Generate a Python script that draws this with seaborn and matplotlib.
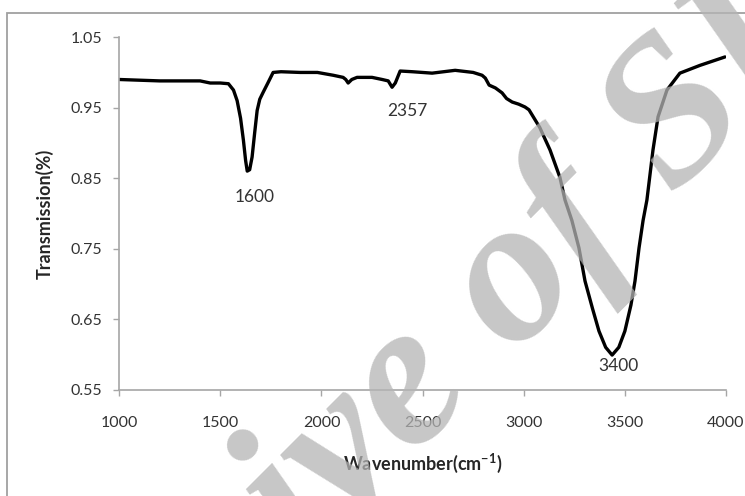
import matplotlib
matplotlib.use("Agg")
import matplotlib.pyplot as plt
import matplotlib.patches as patches
import seaborn as sns
import pandas as pd

# FTIR spectrum
wavenumber = [1000, 1100, 1200, 1300, 1400, 1450, 1500, 1540, 1565, 1583, 1600, 1614,
              1625, 1633, 1645, 1657, 1670, 1682, 1695, 1712, 1735, 1761, 1800, 1895,
              1980, 2058, 2107, 2120, 2132, 2150, 2176, 2250, 2300, 2330, 2349, 2365,
              2389, 2450, 2547, 2661, 2750, 2794, 2810, 2829, 2860, 2893, 2915, 2943,
              2975, 3006, 3026, 3079, 3130, 3179, 3204, 3238, 3273, 3303, 3340, 3372,
              3405, 3437, 3470, 3500, 3530, 3550, 3570, 3590, 3609, 3639, 3664, 3708,
              3772, 3871, 3995]
transmission = [0.990, 0.989, 0.988, 0.988, 0.988, 0.985, 0.985, 0.984, 0.975, 0.960, 0.935, 0.904,
                0.875, 0.860, 0.862, 0.880, 0.915, 0.946, 0.962, 0.972, 0.985, 1.000, 1.001, 1.000,
                1.000, 0.996, 0.993, 0.990, 0.985, 0.990, 0.993, 0.993, 0.990, 0.988, 0.979, 0.985,
                1.002, 1.001, 0.999, 1.003, 1.000, 0.996, 0.992, 0.982, 0.978, 0.971, 0.963, 0.958,
                0.955, 0.951, 0.947, 0.922, 0.890, 0.851, 0.819, 0.790, 0.751, 0.704, 0.665, 0.633,
                0.610, 0.599, 0.610, 0.633, 0.670, 0.704, 0.751, 0.790, 0.819, 0.890, 0.937, 0.975,
                0.999, 1.010, 1.022]

# peak labels
peak_labels = ["1600", "2357", "3400"]
peak_x = [1672, 2423, 3466]
peak_y = [0.823, 0.946, 0.583]

x_ticks = [1000, 1500, 2000, 2500, 3000, 3500, 4000]
y_ticks = [0.55, 0.65, 0.75, 0.85, 0.95, 1.05]

sns.set_style("white")
plt.rcParams['font.family'] = ['Lato', 'DejaVu Sans']
plt.rcParams['mathtext.fontset'] = 'custom'
plt.rcParams['mathtext.rm'] = 'Lato:bold'
plt.rcParams['mathtext.bf'] = 'Lato:bold'

df = pd.DataFrame({"wavenumber": wavenumber, "transmission": transmission})

fig = plt.figure(figsize=(7.45, 4.96), dpi=100)
ax = fig.add_axes([0.160, 0.2145, 0.8145, 0.7105])

sns.lineplot(data=df, x="wavenumber", y="transmission", ax=ax, color="black",
             linewidth=2.4, sort=False)

for lab, lx, ly in zip(peak_labels, peak_x, peak_y):
    ax.text(lx, ly, lab, ha="center", va="center", fontsize=12.5, color="#333333")

ax.set_xlim(1000, 4000)
ax.set_ylim(0.55, 1.05)
ax.set_xticks(x_ticks)
ax.set_yticks(y_ticks)
ax.set_yticklabels([f"{v:.2f}" for v in y_ticks])
ax.tick_params(axis="both", labelsize=11.5, labelcolor="#333333", color="#a6a6a6",
               length=4, width=1, direction="out", left=True, bottom=True)
ax.tick_params(axis="x", pad=15)
ax.tick_params(axis="y", pad=8)

for side in ["top", "right"]:
    ax.spines[side].set_visible(False)
for side in ["left", "bottom"]:
    ax.spines[side].set_color("#a6a6a6")
    ax.spines[side].set_linewidth(1.2)

ax.set_xlabel(r"Wavenumber(cm$^{-1}$)", fontsize=13, fontweight="bold", labelpad=16)
ax.set_ylabel("Transmission(%)", fontsize=13, fontweight="bold", labelpad=12)

# outer chart border, running off the right and bottom edges
top = 1 - 13 / 496
border = patches.Rectangle((7 / 745, -0.2), 1.3, top + 0.2, transform=fig.transFigure,
                           fill=False, edgecolor="#a0a0a0", linewidth=1.3)
fig.patches.append(border)

# watermark
fig.text(428 / 745, 1 - 380 / 496, "Archive of SID", fontsize=150, color="#b4b4b4",
         alpha=0.75, family="Liberation Serif", style="italic", fontweight="bold",
         rotation=45, ha="center", va="center", rotation_mode="anchor", zorder=10)

fig.savefig("out.png", dpi=100)
